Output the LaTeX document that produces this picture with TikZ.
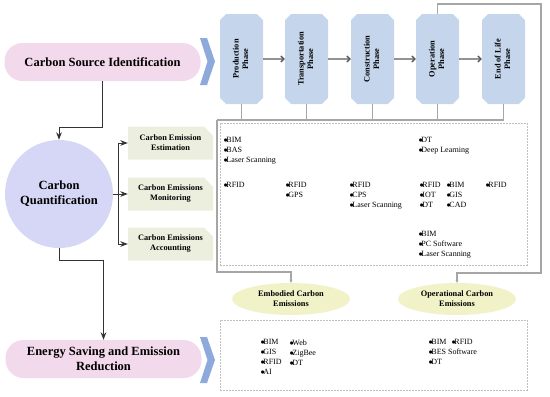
\documentclass[tikz,border=0pt]{standalone}
\usepackage{fontspec}
\setmainfont{Liberation Serif}
\usetikzlibrary{arrows.meta, positioning, shapes.geometric, shapes.misc}

\definecolor{pillpink}{RGB}{242,217,236}
\definecolor{chevblue}{RGB}{142,169,219}
\definecolor{phaseblue}{RGB}{197,214,236}
\definecolor{circlav}{RGB}{214,214,246}
\definecolor{notegreen}{RGB}{236,238,222}
\definecolor{ellyellow}{RGB}{242,242,200}
\definecolor{linegray}{RGB}{166,166,166}
\definecolor{dashgray}{RGB}{192,192,192}

\newcommand{\dotitem}{$\bullet$\kern-1.5pt}
\newcommand{\vtext}[1]{\rotatebox{90}{\begin{tabular}{@{}c@{}}#1\end{tabular}}}

\begin{document}
\begin{tikzpicture}[x=1pt, y=-1pt, >=Stealth,
  pill/.style={fill=pillpink, rounded corners=18pt, minimum width=196pt,
    minimum height=38pt, align=center,
    font=\fontsize{12.5}{15}\selectfont\bfseries},
  phase/.style={chamfered rectangle, chamfered rectangle xsep=3pt,
    fill=phaseblue, minimum width=43pt, minimum height=90pt, inner sep=0pt,
    font=\fontsize{8.3}{9.5}\selectfont\bfseries},
  note/.style={chamfered rectangle, chamfered rectangle corners=north east,
    chamfered rectangle xsep=6pt, fill=notegreen, minimum width=85pt,
    minimum height=33pt, inner sep=0pt, align=center,
    font=\fontsize{8.3}{10}\selectfont\bfseries},
  emis/.style={ellipse, fill=ellyellow, minimum width=118pt,
    minimum height=32pt, inner sep=0pt, align=center,
    font=\fontsize{8.3}{10}\selectfont\bfseries},
  dbox/.style={draw=dashgray, dash pattern=on 2pt off 1pt, line width=0.6pt,
    inner sep=0pt, minimum width=307pt},
  lst/.style={anchor=north west, inner sep=0pt, align=left,
    font=\fontsize{8}{10}\selectfont},
  dline/.style={draw=black!80, line width=1pt},
  pline/.style={draw=black!65, line width=1.3pt, -{Straight Barb[length=3pt]}},
  gline/.style={draw=linegray, line width=1.1pt},
  chev/.style={fill=chevblue}
]
  \useasboundingbox (0,0) rectangle (550,397);

  % Stages
  \node[pill] (csi) at (102.5,62) {Carbon Source Identification};
  \node[circle, fill=circlav, minimum size=108pt, inner sep=0pt, align=center,
    font=\fontsize{12.5}{15}\selectfont\bfseries] (cq) at (59,194)
    {Carbon\\Quantification};
  \node[pill] (esr) at (103.5,359) {Energy Saving and Emission\\Reduction};

  % Chevrons
  \fill[chev] (200,38) -- (207,38) -- (215,61.5) -- (207,85) -- (200,85)
    -- (207.5,61.5) -- cycle;
  \fill[chev] (200,337) -- (207,337) -- (215,360) -- (207,383) -- (200,383)
    -- (207.5,360) -- cycle;

  % Life cycle phases
  \node[phase] (prod) at (241.5,59) {\vtext{Production\\Phase}};
  \node[phase] (trans) at (306.5,59) {\vtext{Transportation\\Phase}};
  \node[phase] (cons) at (372.5,59) {\vtext{Construction\\Phase}};
  \node[phase] (oper) at (437.5,59) {\vtext{Operation\\Phase}};
  \node[phase] (eol) at (503.5,59) {\vtext{End of Life\\Phase}};
  \draw[pline] (prod) -- (trans);
  \draw[pline] (trans) -- (cons);
  \draw[pline] (cons) -- (oper);
  \draw[pline] (oper) -- (eol);

  % Quantification methods
  \node[note] (est) at (170.5,143) {Carbon Emission\\Estimation};
  \node[note] (mon) at (170.5,194) {Carbon Emissions\\Monitoring};
  \node[note] (acc) at (170.5,244) {Carbon Emissions\\Accounting};

  % Dashed boxes
  \node[dbox, minimum height=142pt] (upbox) at (373.5,194) {};
  \node[dbox, minimum height=70pt] (lowbox) at (373.5,355) {};

  % Emission types
  \node[emis] (ece) at (291,299) {Embodied Carbon\\Emissions};
  \node[emis] (oce) at (457,299) {Operational Carbon\\Emissions};

  % Left connectors
  \draw[dline, ->] (csi.south) -- ++(0,46) -| (cq.north);
  \draw[dline] (cq.east) -- ++(5,0) coordinate (fork);
  \draw[dline, ->] (fork) |- (est.west);
  \draw[dline, ->] (fork) |- (mon.west);
  \draw[dline, ->] (fork) |- (acc.west);
  \draw[dline, ->] (cq.south) -- ++(0,12) -| (esr.north);

  % Gray connectors
  \coordinate (busL) at (217,120);
  \coordinate (bendL) at (217,272);
  \coordinate (topR) at (541,4);
  \coordinate (bendR) at (541,273);
  \draw[gline] (prod.south) |- (busL);
  \draw[gline] (trans.south) |- (busL);
  \draw[gline] (cons.south) |- (busL);
  \draw[gline] (oper.south) |- (busL);
  \draw[gline] (eol.south) |- (busL);
  \draw[gline, -{Stealth[length=3pt, width=3pt]}] (busL) -- (bendL) -| (ece.north);
  \draw[gline, -{Stealth[length=3pt, width=3pt]}] (oper.north) |- (topR)
    -- (bendR) -| (oce.north);

  % Technologies
  \node[lst] (t1) at (223.5,137) {\dotitem BIM\\\dotitem BAS\\\dotitem Laser Scanning};
  \node[lst] (t2) at (418.5,137) {\dotitem DT\\\dotitem Deep Learning};
  \node[lst] (t3) at (223.5,182.5) {\dotitem RFID};
  \node[lst] (t4) at (285.5,182.5) {\dotitem RFID\\\dotitem GPS};
  \node[lst] (t5) at (349.5,182.5) {\dotitem RFID\\\dotitem CPS\\\dotitem Laser Scanning};
  \node[lst] (t6) at (419.5,182.5) {\dotitem RFID\\\dotitem IOT\\\dotitem DT};
  \node[lst] (t7) at (446.5,182.5) {\dotitem BIM\\\dotitem GIS\\\dotitem CAD};
  \node[lst] (t8) at (485.5,182.5) {\dotitem RFID};
  \node[lst] (t9) at (418.5,231.5) {\dotitem BIM\\\dotitem PC Software\\\dotitem Laser Scanning};
  \node[lst] (t10) at (260.5,339.5) {\dotitem BIM\\\dotitem GIS\\\dotitem RFID\\\dotitem AI};
  \node[lst] (t11) at (289.5,339.5) {\dotitem Web\\\dotitem ZigBee\\\dotitem DT};
  \node[lst] (t12) at (428.5,339.5) {\dotitem BIM\\\dotitem BES Software\\\dotitem DT};
  \node[lst] (t13) at (451.5,339.5) {\dotitem RFID};
\end{tikzpicture}
\end{document}
